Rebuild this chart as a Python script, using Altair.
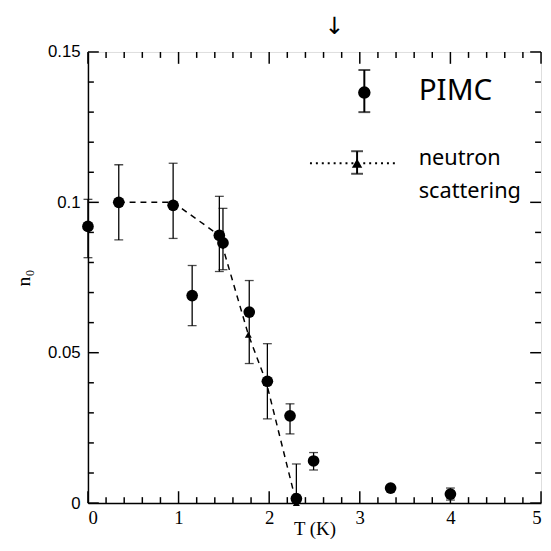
import altair as alt
import pandas as pd

# ---- data ----
pimc_T  = [0.00, 0.34, 0.94, 1.45, 1.49, 1.15, 1.78, 1.98, 2.23, 2.30, 2.49, 3.34, 4.00]
pimc_n  = [0.092, 0.100, 0.099, 0.089, 0.0865, 0.069, 0.0635, 0.0405, 0.029, 0.0015, 0.014, 0.005, 0.003]
pimc_lo = [0.0816, 0.0875, 0.088, 0.077, 0.0776, 0.059, 0.0464, 0.028, 0.023, 0.000, 0.011, 0.005, 0.001]
pimc_hi = [0.101, 0.1125, 0.113, 0.102, 0.098, 0.079, 0.074, 0.053, 0.033, 0.013, 0.0168, 0.005, 0.005]

neut_T = [0.34, 0.94, 1.45, 1.77, 1.97, 2.30]
neut_n = [0.100, 0.100, 0.089, 0.056, 0.040, 0.000]

x_major = [0, 1, 2, 3, 4, 5]
x_minor = [0.2, 0.4, 0.6, 0.8, 1.2, 1.4, 1.6, 1.8, 2.2, 2.4, 2.6, 2.8,
           3.2, 3.4, 3.6, 3.8, 4.2, 4.4, 4.6, 4.8]
y_major = [0, 0.05, 0.1, 0.15]
y_minor = [0.01, 0.02, 0.03, 0.04, 0.06, 0.07, 0.08, 0.09,
           0.11, 0.12, 0.13, 0.14]

W, H = 459, 457

pimc = pd.DataFrame({"T": pimc_T, "n": pimc_n, "lo": pimc_lo, "hi": pimc_hi})
neut = pd.DataFrame({"T": neut_T, "n": neut_n})

xs = alt.Scale(domain=[0, 5], nice=False, zero=False)
ys = alt.Scale(domain=[0, 0.15], nice=False, zero=False)

X = alt.X("T:Q", scale=xs, title="T (K)",
          axis=alt.Axis(values=x_major, ticks=False, grid=False, format="d",
                        labelFont="Liberation Serif", labelFontSize=19,
                        labelPadding=6, labelColor="black",
                        titleFont="Liberation Serif", titleFontSize=19,
                        titleFontWeight="normal", titleY=17, titleBaseline="top",
                        titleColor="black", domainColor="black", domainWidth=1.5))
Y = alt.Y("n:Q", scale=ys, title="n₀",
          axis=alt.Axis(values=y_major, ticks=False, grid=False, format="~g",
                        labelFont="Liberation Sans", labelFontSize=17,
                        labelPadding=8, labelColor="black",
                        titleFont="Liberation Serif", titleFontSize=20,
                        titleFontWeight="normal", titlePadding=14,
                        titleColor="black", domainColor="black", domainWidth=1.5))

base_axes = alt.Chart(pimc).mark_point(opacity=0).encode(x=X, y=Y)

# error bars
err = alt.Chart(pimc).mark_rule(color="black", strokeWidth=1.3).encode(
    x=alt.X("T:Q", scale=xs), y=alt.Y("lo:Q", scale=ys), y2="hi:Q")
cap_hi = alt.Chart(pimc).mark_tick(color="black", orient="horizontal", size=9, thickness=1.3).encode(
    x=alt.X("T:Q", scale=xs), y=alt.Y("hi:Q", scale=ys))
cap_lo = alt.Chart(pimc).mark_tick(color="black", orient="horizontal", size=9, thickness=1.3).encode(
    x=alt.X("T:Q", scale=xs), y=alt.Y("lo:Q", scale=ys))
pts = alt.Chart(pimc).mark_circle(color="black", size=140, opacity=1).encode(
    x=alt.X("T:Q", scale=xs), y=alt.Y("n:Q", scale=ys))

# neutron scattering dashed line
nline = alt.Chart(neut).mark_line(color="black", strokeWidth=1.5, strokeDash=[6, 5]).encode(
    x=alt.X("T:Q", scale=xs), y=alt.Y("n:Q", scale=ys))
ntri = alt.Chart(neut).mark_point(shape="triangle-up", filled=True, color="black", size=50, opacity=1).encode(
    x=alt.X("T:Q", scale=xs), y=alt.Y("n:Q", scale=ys))

# inward ticks
TICKC = "black"
def vticks(vals, length, top):
    d = pd.DataFrame({"T": vals})
    ypix = length / 2 if top else H - length / 2
    return alt.Chart(d).mark_tick(color=TICKC, orient="vertical", size=length,
                                  thickness=1.5, opacity=1).encode(
        x=alt.X("T:Q", scale=xs), y=alt.value(ypix))

def hticks(vals, length, right):
    d = pd.DataFrame({"n": vals})
    xpix = W - length / 2 if right else length / 2
    return alt.Chart(d).mark_tick(color=TICKC, orient="horizontal", size=length,
                                  thickness=1.5, opacity=1).encode(
        y=alt.Y("n:Q", scale=ys), x=alt.value(xpix))

ticks = [vticks(x_major, 12, False), vticks(x_minor, 6, False),
         vticks(x_major, 12, True), vticks(x_minor, 6, True),
         hticks(y_major, 11, False), hticks(y_minor, 6, False),
         hticks(y_major, 11, True), hticks(y_minor, 6, True)]

# legend (hand-drawn in original)
leg_pimc = pd.DataFrame({"T": [3.05], "n": [0.1365], "lo": [0.130], "hi": [0.144]})
leg_neut = pd.DataFrame({"T": [2.97], "n": [0.113], "lo": [0.1095], "hi": [0.117]})
leg_dots = pd.DataFrame({"T": [2.45, 3.40], "n": [0.113, 0.113]})
leg_text = pd.DataFrame({"T": [3.65, 3.65, 3.65], "n": [0.1370, 0.1148, 0.1038],
                         "s": ["PIMC", "neutron", "scattering"],
                         "fs": [30, 22, 22]})

legend = [
    alt.Chart(leg_pimc).mark_rule(color="black", strokeWidth=2).encode(
        x=alt.X("T:Q", scale=xs), y=alt.Y("lo:Q", scale=ys), y2="hi:Q"),
    alt.Chart(leg_pimc).mark_tick(color="black", orient="horizontal", size=12, thickness=2).encode(
        x=alt.X("T:Q", scale=xs), y=alt.Y("hi:Q", scale=ys)),
    alt.Chart(leg_pimc).mark_tick(color="black", orient="horizontal", size=12, thickness=2).encode(
        x=alt.X("T:Q", scale=xs), y=alt.Y("lo:Q", scale=ys)),
    alt.Chart(leg_pimc).mark_circle(color="black", size=160, opacity=1).encode(
        x=alt.X("T:Q", scale=xs), y=alt.Y("n:Q", scale=ys)),
    alt.Chart(leg_dots).mark_line(color="black", strokeWidth=2, strokeDash=[2, 4]).encode(
        x=alt.X("T:Q", scale=xs), y=alt.Y("n:Q", scale=ys)),
    alt.Chart(leg_neut).mark_rule(color="black", strokeWidth=2).encode(
        x=alt.X("T:Q", scale=xs), y=alt.Y("lo:Q", scale=ys), y2="hi:Q"),
    alt.Chart(leg_neut).mark_tick(color="black", orient="horizontal", size=12, thickness=2).encode(
        x=alt.X("T:Q", scale=xs), y=alt.Y("hi:Q", scale=ys)),
    alt.Chart(leg_neut).mark_tick(color="black", orient="horizontal", size=12, thickness=2).encode(
        x=alt.X("T:Q", scale=xs), y=alt.Y("lo:Q", scale=ys)),
    alt.Chart(leg_neut).mark_point(shape="triangle-up", filled=True, color="black", size=110, opacity=1).encode(
        x=alt.X("T:Q", scale=xs), y=alt.Y("n:Q", scale=ys)),
    alt.Chart(leg_text).mark_text(align="left", baseline="middle", font="Noto Sans",
                                  color="black").encode(
        x=alt.X("T:Q", scale=xs), y=alt.Y("n:Q", scale=ys), text="s:N",
        size=alt.Size("fs:Q", scale=None, legend=None)),
]

arrow = alt.Chart(pd.DataFrame({"T": [2.72], "s": ["↓"]})).mark_text(
    fontSize=24, color="black", baseline="middle", font="DejaVu Sans").encode(
    x=alt.X("T:Q", scale=xs), y=alt.value(-25), text="s:N")

chart = alt.layer(base_axes, nline, ntri, err, cap_hi, cap_lo, pts, *ticks, *legend, arrow).properties(
    width=W, height=H,
    padding={"left": 81, "top": 41, "right": 2, "bottom": 45},
    autosize="none",
).configure_view(stroke="black", strokeWidth=1.5).configure(background="white")

chart.save("out.html", embed_options={"renderer": "svg", "actions": False})
